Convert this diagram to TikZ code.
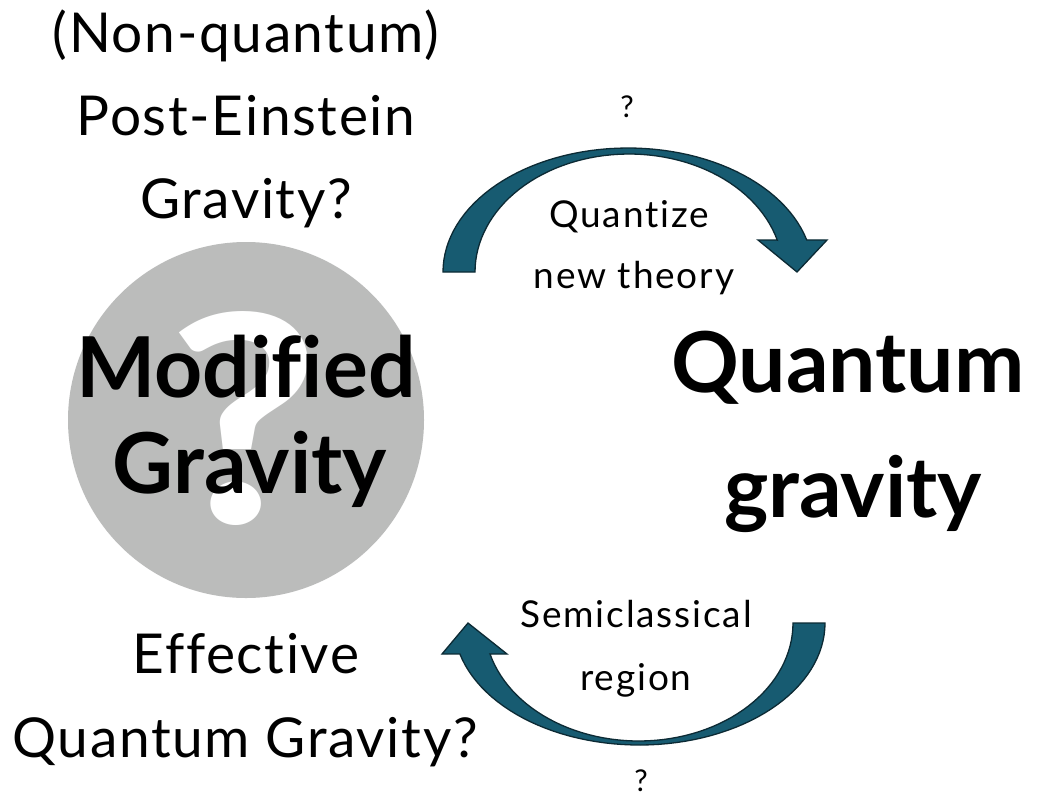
\documentclass[tikz,border=0pt]{standalone}
\usepackage{fontspec}
\setmainfont[Ligatures={NoCommon,NoRare}]{Lato}
\definecolor{arrowfill}{RGB}{23,91,113}
\definecolor{arrowline}{RGB}{12,42,52}
\definecolor{circgray}{RGB}{187,188,187}
\begin{document}
\begin{tikzpicture}[x=1pt,y=-1pt,
  txt/.style={inner sep=0pt,anchor=base,font=\fontsize{55}{60}\selectfont\addfontfeatures{LetterSpace=3}},
  mid/.style={inner sep=0pt,anchor=base,font=\fontsize{37}{42}\selectfont\addfontfeatures{LetterSpace=5}},
  qmark/.style={inner sep=0pt,anchor=base,font=\fontsize{30}{36}\selectfont},
  big/.style={inner sep=0pt,anchor=base,font=\fontsize{84}{96}\selectfont\bfseries},
  curvearrow/.style={fill=arrowfill,draw=arrowline,line width=1.3pt,line join=miter}]
\fill[white] (0,0) rectangle (1040,796);
\useasboundingbox (0,0) rectangle (1040,796);

% grey circle with question mark
\node[circle,fill=circgray,minimum size=356pt,inner sep=0pt] (disc) at (246,420) {};
\node[inner sep=0pt,anchor=base,text=white,font=\fontsize{290}{300}\selectfont\bfseries] (bigq) at (244,523) {\scalebox{1.15}[1]{?}};

% left texts
\node[txt] (nq) at (246,52) {(Non-quantum)};
\node[txt] (pe) at (246,135) {Post-Einstein};
\node[txt] (gq) at (246,218) {Gravity?};
\node[big] (mod) at (246,397) {Modified};
\node[big] (grav) at (250,493) {Gravity};
\node[txt] (eff) at (246,673) {Effective};
\node[txt] (eqg) at (245,757) {Quantum Gravity?};

% right texts
\node[big] (qu) at (848,392) {Quantum};
\node[big] (qg) at (853,517) {gravity};

% middle texts
\node[qmark] (q1) at (627,117) {?};
\node[mid] (qz) at (629,227) {Quantize};
\node[mid] (nt) at (634,288) {new theory};
\node[mid] (sc) at (636,627) {Semiclassical};
\node[mid] (rg) at (636,690) {region};
\node[qmark] (q2) at (641,791) {?};

% top curved arrow
\draw[curvearrow]
  plot[domain=180:345,samples=60] ({628+185*cos(\x)},{272+124*sin(\x)})
  -- (827,240) -- (797,272) -- (758,240) -- (777,240)
  -- plot[domain=344.3:180,samples=60] ({629+154*cos(\x)},{272+118*sin(\x)})
  -- cycle;

% bottom curved arrow
\draw[curvearrow]
  plot[domain=0:165.3,samples=60] ({639.4+185.6*cos(\x)},{623+122*sin(\x)})
  -- (442,654) -- (468,623) -- (507,654) -- (490,654)
  -- plot[domain=164.7:0,samples=60] ({638.8+154.2*cos(\x)},{623+118*sin(\x)})
  -- cycle;
\end{tikzpicture}
\end{document}
